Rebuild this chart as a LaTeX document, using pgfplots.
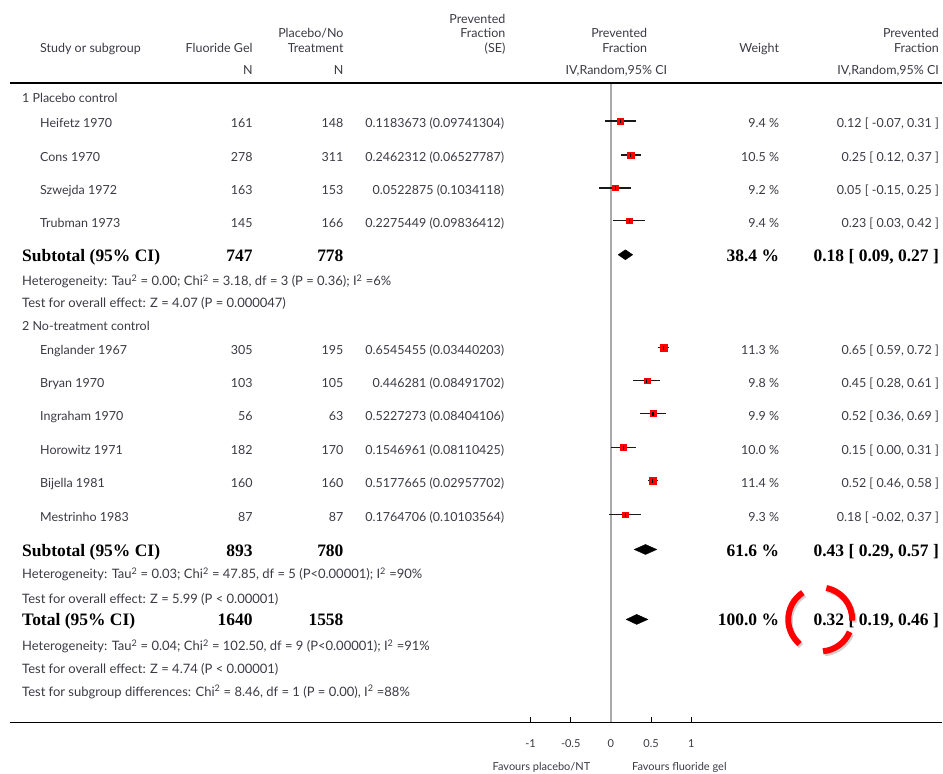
\documentclass[border=0pt]{standalone}
\usepackage{pgfplots}
\pgfplotsset{compat=1.18}
\usepackage{pgfplotstable}
\usepackage{fontspec}
\setmainfont{Lato}
\newfontfamily\serifbold{Liberation Serif}

\definecolor{txt}{RGB}{58,58,68}
\definecolor{refgray}{RGB}{170,170,170}
\definecolor{sqred}{RGB}{255,0,0}

\newcommand\fs{\fontsize{12.5}{14}\selectfont}
\newcommand\fn{\fontsize{13}{15}\selectfont}
\newcommand\ft{\fontsize{11}{13}\selectfont}
\newcommand\fb{\serifbold\bfseries\fontsize{17.5}{19}\selectfont}

% individual studies: row, prevented fraction, 95% CI, weight (%)
\pgfplotstableread{
y   pf        lo     hi    w
121 0.1183673 -0.07  0.31  9.4
155 0.2462312  0.12  0.37 10.5
188 0.0522875 -0.15  0.25  9.2
221 0.2275449  0.03  0.42  9.4
348 0.6545455  0.59  0.72 11.3
381 0.446281   0.28  0.61  9.8
414 0.5227273  0.36  0.69  9.9
448 0.1546961  0.00  0.31 10.0
481 0.5177665  0.46  0.58 11.4
515 0.1764706 -0.02  0.37  9.3
}\studies

\begin{document}
\begin{tikzpicture}
\begin{axis}[
  scale only axis,
  width=933pt, height=640pt,
  xmin=-7.4720, xmax=4.1180,
  ymin=83, ymax=723, y dir=reverse,
  axis x line*=bottom, axis y line=none,
  x axis line style={line width=1.6pt, -},
  xtick={-1,-0.5,0,0.5,1},
  xticklabels={-1,-0.5,0,0.5,1},
  major tick length=5pt, tick align=inside,
  tick style={black, line width=1.1pt},
  xticklabel style={font=\ft, text=txt, anchor=base, yshift=-25pt},
  clip=false,
]
% line of no effect
\draw[refgray, line width=1.8pt] (axis cs:0,83) -- (axis cs:0,723);

% confidence intervals
\addplot[only marks, mark=none,
  error bars/.cd, x dir=both, x explicit, error mark=none,
  error bar style={line width=1.4pt, black!90}]
  table[x=pf, y=y,
    x error plus expr=\thisrow{hi}-\thisrow{pf},
    x error minus expr=\thisrow{pf}-\thisrow{lo}]{\studies};

% study squares, sized by weight
\addplot[scatter, only marks, mark=square*,
  scatter/use mapped color={draw=sqred, fill=sqred},
  visualization depends on={0.3*\thisrow{w} \as \msize},
  scatter/@pre marker code/.append style={/tikz/mark size=\msize pt}]
  table[x=pf, y=y]{\studies};
\addplot[only marks, mark=|, mark size=2pt,
  mark options={line width=1.2pt, black}]
  table[x=pf, y=y]{\studies};

% pooled estimates
\addplot[fill=black, draw=black, line width=0.4pt]
  coordinates {(0.09,255) (0.18,250) (0.27,255) (0.18,260)} --cycle;
\addplot[fill=black, draw=black, line width=0.4pt]
  coordinates {(0.29,550) (0.43,545) (0.57,550) (0.43,555)} --cycle;
\addplot[fill=black, draw=black, line width=0.4pt]
  coordinates {(0.19,620) (0.32,615) (0.46,620) (0.32,625)} --cycle;
\end{axis}

\begin{scope}[x=1pt, y=-1pt, xshift=-10pt, yshift=723pt,
  every node/.style={inner sep=0pt, text=txt, font=\fs}]
\path (0,0) rectangle (943,774);
\draw[line width=1.8pt] (10,83) -- (943,83);

% header
\node[anchor=base west] at (40,53) {Study or subgroup};
\node[anchor=base east] at (253,53) {Fluoride Gel};
\node[anchor=base east] at (344,38) {Placebo/No};
\node[anchor=base east] at (344,53) {Treatment};
\node[anchor=base east] at (253,75) {N};
\node[anchor=base east] at (344,75) {N};
\node[anchor=base east] at (506,24) {Prevented};
\node[anchor=base east] at (506,38) {Fraction};
\node[anchor=base east] at (506,53) {(SE)};
\node[anchor=base east] at (648,38) {Prevented};
\node[anchor=base east] at (648,53) {Fraction};
\node[anchor=base] at (617,75) {IV,Random,95\% CI};
\node[anchor=base east] at (780,53) {Weight};
\node[anchor=base east] at (940,38) {Prevented};
\node[anchor=base east] at (940,53) {Fraction};
\node[anchor=base east] at (940,75) {IV,Random,95\% CI};

% study rows
\node[anchor=base west] at (22,103) {1 Placebo control};
\foreach \yb/\name/\na/\nb/\pfse/\wt/\ci in {
  128/Heifetz 1970/161/148/0.1183673 (0.09741304)/9.4 \%/{0.12 [ -0.07, 0.31 ]},
  162/Cons 1970/278/311/0.2462312 (0.06527787)/10.5 \%/{0.25 [ 0.12, 0.37 ]},
  195/Szwejda 1972/163/153/0.0522875 (0.1034118)/9.2 \%/{0.05 [ -0.15, 0.25 ]},
  228/Trubman 1973/145/166/0.2275449 (0.09836412)/9.4 \%/{0.23 [ 0.03, 0.42 ]},
  355/Englander 1967/305/195/0.6545455 (0.03440203)/11.3 \%/{0.65 [ 0.59, 0.72 ]},
  388/Bryan 1970/103/105/0.446281 (0.08491702)/9.8 \%/{0.45 [ 0.28, 0.61 ]},
  421/Ingraham 1970/56/63/0.5227273 (0.08404106)/9.9 \%/{0.52 [ 0.36, 0.69 ]},
  455/Horowitz 1971/182/170/0.1546961 (0.08110425)/10.0 \%/{0.15 [ 0.00, 0.31 ]},
  488/Bijella 1981/160/160/0.5177665 (0.02957702)/11.4 \%/{0.52 [ 0.46, 0.58 ]},
  522/Mestrinho 1983/87/87/0.1764706 (0.10103564)/9.3 \%/{0.18 [ -0.02, 0.37 ]}}{
  \node[anchor=base west] at (40,\yb) {\name};
  \node[anchor=base east] at (253,\yb) {\na};
  \node[anchor=base east] at (344,\yb) {\nb};
  \node[anchor=base east] at (505,\yb) {\pfse};
  \node[anchor=base east] at (780,\yb) {\wt};
  \node[anchor=base east] at (940,\yb) {\ci};
}

\begin{scope}[every node/.append style={text=black, font=\fb}]
\node[anchor=base west] at (22,262) {Subtotal (95\% CI)};
\node[anchor=base east] at (253,262) {747};
\node[anchor=base east] at (344,262) {778};
\node[anchor=base east] at (780,262) {38.4 \%};
\node[anchor=base east] at (940,262) {0.18 [ 0.09, 0.27 ]};
\node[anchor=base west] at (22,557) {Subtotal (95\% CI)};
\node[anchor=base east] at (253,557) {893};
\node[anchor=base east] at (344,557) {780};
\node[anchor=base east] at (780,557) {61.6 \%};
\node[anchor=base east] at (940,557) {0.43 [ 0.29, 0.57 ]};
\node[anchor=base west] at (22,626) {Total (95\% CI)};
\node[anchor=base east] at (253,626) {1640};
\node[anchor=base east] at (344,626) {1558};
\node[anchor=base east] at (780,626) {100.0 \%};
\node[anchor=base east] at (940,626) {0.32 [ 0.19, 0.46 ]};
\end{scope}

\begin{scope}[every node/.append style={font=\fn}]
\node[anchor=base west] at (22,286) {Heterogeneity: Tau\textsuperscript{2} = 0.00; Chi\textsuperscript{2} = 3.18, df = 3 (P = 0.36); I\textsuperscript{2} =6\%};
\node[anchor=base west] at (22,308) {Test for overall effect: Z = 4.07 (P = 0.000047)};
\node[anchor=base west] at (22,579) {Heterogeneity: Tau\textsuperscript{2} = 0.03; Chi\textsuperscript{2} = 47.85, df = 5 (P<0.00001); I\textsuperscript{2} =90\%};
\node[anchor=base west] at (22,604) {Test for overall effect: Z = 5.99 (P < 0.00001)};
\node[anchor=base west] at (22,651) {Heterogeneity: Tau\textsuperscript{2} = 0.04; Chi\textsuperscript{2} = 102.50, df = 9 (P<0.00001); I\textsuperscript{2} =91\%};
\node[anchor=base west] at (22,674) {Test for overall effect: Z = 4.74 (P < 0.00001)};
\node[anchor=base west] at (22,697) {Test for subgroup differences: Chi\textsuperscript{2} = 8.46, df = 1 (P = 0.00), I\textsuperscript{2} =88\%};
\end{scope}
\node[anchor=base west] at (22,331) {2 No-treatment control};
\node[anchor=base, font=\ft] at (542,771) {Favours placebo/NT};
\node[anchor=base, font=\ft] at (680,771) {Favours fluoride gel};
\end{scope}

% highlight ring around the overall estimate
\begin{scope}[shift={(811pt,103pt)}, line width=6pt, line cap=butt]
\foreach \a/\b in {123/230, -2/79, -85/-23}{
  \draw[black, opacity=0.18] ([shift={(1.5pt,-2pt)}]\a:32pt) arc[start angle=\a, end angle=\b, radius=32pt];
  \draw[sqred] (\a:32pt) arc[start angle=\a, end angle=\b, radius=32pt];
}
\end{scope}
\end{tikzpicture}
\end{document}
